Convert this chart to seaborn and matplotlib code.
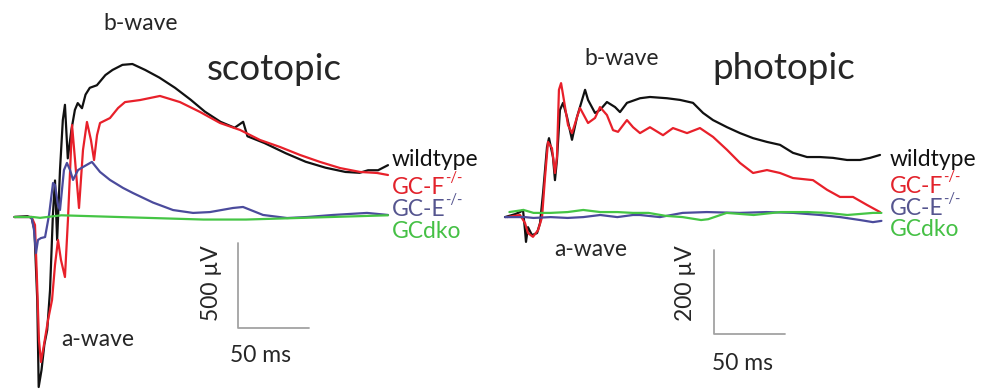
import matplotlib
matplotlib.use("Agg")
import matplotlib.pyplot as plt
import seaborn as sns
import pandas as pd

# ---------------- data (time in ms after flash, amplitude in µV) ----------------
genotypes = ["wildtype", "GC-F-/-", "GC-E-/-", "GCdko"]

# scotopic
scot_wt_t = [-13, -4, -1, 1, 3, 4, 6, 8, 10, 12, 14, 15.5, 17, 19, 21, 22.5, 24.5, 27, 29.5, 31.5,
             34.5, 37, 40, 45, 51, 56, 63, 70, 79, 89, 100, 111, 121, 132, 142, 148, 151, 163, 178, 192,
             206, 220, 230, 236, 243, 250]
scot_wt = [0, 5, -5, -75, -490, -1000, -900, -750, -665, -430, 10, 215, -135, 275, 570, 660, 345, 510, 630, 670,
           640, 720, 760, 775, 835, 865, 895, 900, 865, 820, 760, 690, 620, 560, 525, 560, 475, 435, 375, 325,
           290, 265, 260, 275, 275, 305]

scot_f_t = [-13, -1, 1.4, 2.8, 4.2, 5.6, 7.7, 10.6, 13.4, 15.5, 17.6, 19.7, 22.5, 24.6, 27.5, 29.6, 32.4, 35.2,
            38, 40.8, 43, 45.1, 47.2, 54.2, 59.9, 64.8, 75.4, 82.4, 89.4, 96.5, 103.5, 117.6, 131.7, 145.8,
            159.9, 173.9, 188, 202.1, 216.2, 230.3, 242.3, 250]
scot_f = [0, 0, -47, -370, -723, -853, -753, -606, -488, -282, -135, -253, -353, -18, 541, 335, 53, 394,
          559, 453, 335, 482, 553, 582, 641, 676, 688, 700, 712, 694, 676, 618, 553, 512,
          453, 412, 365, 324, 288, 265, 259, 247]

scot_e_t = [-13, -1, 0.7, 2.1, 3.5, 5.6, 8.5, 11.3, 14.1, 15.5, 17.6, 19, 21.8, 23.9, 26.1, 28.2, 31.7, 35.2,
            41.5, 47.2, 54.2, 63.4, 70.4, 84.5, 98.6, 112.7, 124.6, 140.8, 147.9, 162, 178.9, 193, 211.3,
            235.2, 250]
scot_e = [0, 0, -76, -212, -135, -124, -118, 12, 200, 188, 71, 41, 276, 318, 276, 218, 276, 294,
          324, 265, 218, 171, 141, 85, 41, 24, 29, 53, 59, 12, -6, 0, 12,
          24, 12]

scot_dko_t = [-13, 0, 5, 20, 40, 60, 80, 100, 120, 150, 170, 190, 210, 230, 250]
scot_dko = [0, 0, -5, 10, 5, 0, -5, -10, -15, -15, -10, -5, 0, 5, 10]

# photopic
phot_wt_t = [-14.1, -7, -3.5, -1.4, 0, 0.7, 2.1, 4.9, 8.5, 10.6, 12.7, 15.5, 16.9, 19.7, 21.1, 22.5, 24.6,
             26.8, 29.6, 33.1, 36.6, 42.3, 44.4, 49.3, 52.8, 57.7, 63.4, 66.9, 71.8, 81, 88, 100, 109.2,
             118.3, 125.4, 132.4, 142.3, 151.4, 160.6, 170.4, 179.6, 188.7, 198.6, 207.7, 216.9, 226.8,
             235.9, 243, 250]
phot_wt = [-5, 2, 7, 12, -36, -64, -29, -48, -43, -19, 52, 162, 183, 138, 83, 131, 250,
           267, 233, 179, 233, 298, 274, 243, 250, 269, 257, 245, 267, 278, 281, 278, 274,
           267, 243, 226, 209, 195, 183, 174, 167, 148, 138, 138, 136, 131,
           131, 136, 143]

phot_f_t = [-12.7, -3.5, 0, 2.1, 5.6, 9.2, 12, 14.1, 16.2, 19, 21.1, 22.5, 23.9, 25.4, 26.8, 30.3, 33.1,
            38.7, 44.4, 49.3, 52.8, 57.7, 62, 65.5, 71.8, 76.1, 81, 88, 97.2, 104.2, 114.1, 123.2, 132.4,
            142.3, 151.4, 160.6, 170.4, 179.6, 188.7, 202.8, 212.7, 221.8, 231, 240.8, 250]
phot_f = [-5, 0, -19, -43, -52, -36, -5, 90, 174, 159, 100, 138, 298, 314, 286, 214, 195,
          255, 219, 231, 257, 238, 202, 198, 226, 209, 195, 209, 190, 207, 195, 207, 186,
          155, 124, 100, 107, 100, 88, 83, 60, 43, 43, 24, 7]

phot_e_t = [-14, 0, 6, 18, 30, 41, 53, 65, 76, 81, 95, 111, 128, 151, 170, 189, 208, 222, 236, 245, 251]
phot_e = [-5, -5, -7, -5, -7, -5, 0, -5, 0, 0, -5, 5, 7, 5, 7, 5, 0, -5, -12, -17, -14]

phot_dko_t = [-11, -1, 6, 18, 30, 41, 53, 65, 76, 87, 99, 111, 124, 129, 142, 161, 180, 199, 213, 227, 245, 251]
phot_dko = [7, 12, 5, 5, 7, 12, 7, 7, 5, 5, -2, -5, -12, -10, 5, 0, 7, 7, 5, 0, 5, 5]

line_colors = ["#111111", "#e8202a", "#4b4b9c", "#45c545"]
label_colors = ["#111111", "#e2222b", "#55558f", "#45c045"]

# ---------------- figure ----------------
W, H = 984, 389
sns.set_theme(style="white")
plt.rcParams["font.family"] = ["Lato", "DejaVu Sans"]

fig = plt.figure(figsize=(W / 100, H / 100), dpi=100)


def frame(df_parts):
    rows = []
    for name, t, v in df_parts:
        rows.append(pd.DataFrame({"t": t, "v": v, "genotype": name}))
    return pd.concat(rows, ignore_index=True)


def panel(rect_px, t0_px, base_px, px_per_ms, px_per_uv):
    x0, x1 = rect_px
    ax = fig.add_axes([x0 / W, 0, (x1 - x0) / W, 1])
    ax.set_xlim((x0 - t0_px) / px_per_ms, (x1 - t0_px) / px_per_ms)
    ax.set_ylim((base_px - H) / px_per_uv, base_px / px_per_uv)
    ax.set_axis_off()
    return ax


ax1 = panel((0, 490), 33, 217, 1.42, 0.17)
ax2 = panel((490, 984), 525, 215, 1.42, 0.42)

df1 = frame([(genotypes[0], scot_wt_t, scot_wt), (genotypes[1], scot_f_t, scot_f),
             (genotypes[2], scot_e_t, scot_e), (genotypes[3], scot_dko_t, scot_dko)])
df2 = frame([(genotypes[0], phot_wt_t, phot_wt), (genotypes[1], phot_f_t, phot_f),
             (genotypes[2], phot_e_t, phot_e), (genotypes[3], phot_dko_t, phot_dko)])

pal = dict(zip(genotypes, line_colors))
for ax, df in ((ax1, df1), (ax2, df2)):
    sns.lineplot(data=df, x="t", y="v", hue="genotype", hue_order=genotypes, palette=pal,
                 estimator=None, sort=False, legend=False, lw=1.6, ax=ax, clip_on=False)

# scale bars
bar_col = "#a3a3a3"
ax1.plot([144.4, 144.4, 194.4], [-153, -653, -653], color=bar_col, lw=1.3, clip_on=False)
ax2.plot([133.1, 133.1, 183.1], [-83, -283, -283], color=bar_col, lw=1.3, clip_on=False)


def ftext(x, y, s, **kw):
    return fig.text(x / W, 1 - y / H, s, **kw)


BODY = 16.5
ftext(103, 30, "b-wave", fontsize=BODY)
ftext(207, 80, "scotopic", fontsize=26.5)
ftext(61, 346, "a-wave", fontsize=BODY)
ftext(584, 65, "b-wave", fontsize=BODY)
ftext(712, 79, "photopic", fontsize=26.5)
ftext(554, 256, "a-wave", fontsize=BODY)

ftext(212, 283, "500 µV", fontsize=BODY, rotation=90, ha="center", va="center")
ftext(261, 356, "50 ms", fontsize=BODY, ha="center", va="center")
ftext(686, 283, "200 µV", fontsize=BODY, rotation=90, ha="center", va="center")
ftext(742, 363, "50 ms", fontsize=BODY, ha="center", va="center")

label_names = ["wildtype", "GC-F", "GC-E", "GCdko"]
supers = [None, "-/-", "-/-", None]
for x0, bases in ((392, (166, 194, 216, 238)), (890, (166, 193, 215, 236))):
    for name, sup, col, yb in zip(label_names, supers, label_colors, bases):
        t = ftext(x0, yb, name, fontsize=BODY, color=col, va="baseline")
        if sup:
            plt.annotate(sup, xy=(0.995, 0.95), xycoords=t, fontsize=10.5, color=col,
                         ha="left", va="center", annotation_clip=False)

fig.savefig("out.png", dpi=100)
